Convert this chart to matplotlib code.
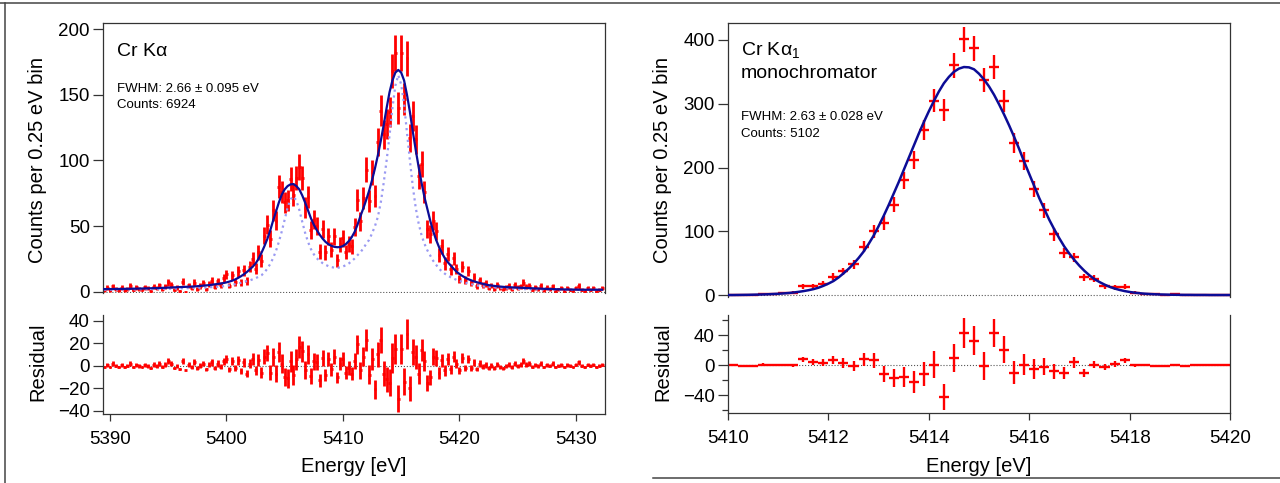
import numpy as np
import matplotlib
matplotlib.use("Agg")
import matplotlib.pyplot as plt
from matplotlib.lines import Line2D

plt.rcParams['font.family'] = ['Liberation Sans', 'DejaVu Sans']
plt.rcParams['mathtext.default'] = 'regular'

# ---- Cr K-alpha (left), 0.25 eV bins starting at 5389.5 eV
ka_start, ka_step = 5389.5, 0.25

ka_fit = [
    2.0, 2.0, 2.0, 2.0, 2.1, 2.1, 2.1, 2.2, 2.2, 2.2,
    2.3, 2.3, 2.4, 2.4, 2.5, 2.5, 2.6, 2.7, 2.7, 2.8,
    2.9, 3.0, 3.1, 3.2, 3.3, 3.4, 3.5, 3.6, 3.7, 3.8,
    3.9, 4.0, 4.2, 4.4, 4.6, 4.8, 5.0, 5.3, 5.6, 5.9,
    6.2, 6.6, 7.1, 7.7, 8.4, 9.3, 10.5, 11.8, 13.3, 15.0,
    17.0, 19.0, 21.5, 25.0, 29.5, 34.5, 40.0, 46.5, 54.0, 61.0,
    68.0, 74.0, 78.0, 80.5, 81.8, 82.0, 80.5, 78.0, 73.5, 68.0,
    62.0, 56.0, 51.0, 47.0, 43.5, 40.5, 38.0, 36.2, 35.0, 34.2,
    33.9, 34.0, 34.8, 36.3, 38.5, 41.5, 45.5, 51.0, 57.5, 63.5,
    70.0, 77.0, 85.0, 94.0, 104.0, 115.0, 127.0, 140.0, 152.0, 161.0,
    167.0, 169.0, 167.0, 161.0, 150.0, 137.0, 122.0, 108.0, 95.0, 83.0,
    72.0, 63.0, 54.0, 46.0, 39.5, 34.0, 29.5, 25.5, 22.5, 20.0,
    17.5, 15.3, 13.5, 12.0, 10.7, 9.6, 8.7, 7.9, 7.2, 6.6,
    6.0, 5.5, 5.0, 4.7, 4.4, 4.1, 3.9, 3.7, 3.5, 3.4,
    3.3, 3.2, 3.1, 3.0, 2.9, 2.8, 2.7, 2.6, 2.5, 2.4,
    2.3, 2.2, 2.1, 2.0, 2.0, 1.9, 1.8, 1.8, 1.7, 1.7,
    1.6, 1.6, 1.6, 1.5, 1.5, 1.5, 1.5, 1.5, 1.5, 1.5,
    1.5, 1.5,
]

# natural line shape (dotted)
ka_lines = [
    1.5, 1.5, 1.5, 1.5, 1.6, 1.6, 1.6, 1.6, 1.7, 1.7,
    1.7, 1.8, 1.8, 1.8, 1.9, 1.9, 2.0, 2.0, 2.1, 2.1,
    2.2, 2.2, 2.3, 2.3, 2.4, 2.4, 2.5, 2.6, 2.6, 2.7,
    2.8, 2.8, 2.9, 3.0, 3.1, 3.2, 3.3, 3.5, 3.6, 3.8,
    4.0, 4.2, 4.5, 4.8, 5.2, 5.7, 6.3, 6.8, 7.4, 8.0,
    8.6, 9.4, 10.3, 11.3, 12.5, 14.5, 17.5, 21.0, 25.5, 31.0,
    38.0, 46.0, 55.0, 64.0, 70.5, 72.5, 69.5, 62.5, 53.5, 45.0,
    38.0, 32.5, 28.5, 25.5, 23.5, 21.8, 20.5, 19.5, 18.8, 18.3,
    18.2, 18.5, 19.2, 20.2, 21.5, 23.2, 25.3, 27.8, 30.0, 33.0,
    36.5, 39.5, 44.5, 50.0, 57.0, 68.0, 83.0, 100.0, 119.0, 140.0,
    157.0, 165.0, 158.0, 143.0, 121.0, 100.0, 80.0, 64.0, 52.0, 43.0,
    36.5, 31.5, 27.5, 23.5, 20.5, 17.5, 15.5, 13.7, 12.2, 11.0,
    10.0, 9.0, 8.2, 7.5, 6.9, 6.3, 5.8, 5.2, 4.8, 4.4,
    4.1, 3.8, 3.6, 3.4, 3.2, 3.0, 2.8, 2.7, 2.5, 2.4,
    2.3, 2.2, 2.1, 2.0, 2.0, 1.9, 1.9, 1.8, 1.8, 1.7,
    1.7, 1.7, 1.6, 1.6, 1.6, 1.6, 1.5, 1.5, 1.5, 1.5,
    1.5, 1.5, 1.4, 1.4, 1.4, 1.4, 1.4, 1.4, 1.4, 1.4,
    1.4, 1.4,
]

ka_resid = [
    -1, 1, -1, 2, 0, -1, 1, -1, 0, 2, -1, 1, 0, -1, 1, 0, -2, 1, 0, 2, -1, 1,
    4, 2, -2, 0, -3, 4, -4, 1, -1, 3, -2, 0, 2, -3, 1, 3, -2, 2, -1, 4,
    6, -3, 4, -2, 5, -5, 3, -7, 2, 6, -4, 5, -6, 8,
    11, -6, 8, -7, 12, 2, -10, -11, 4, -8, 6, 17, 13, -4, 10, -9, 4, 3, -13, 7,
    -8, 6, -3, 8, -10, 2, 6, -6, -2, -7, 4, 19,
    -4, 8, 23, -8, 6, -21, 10, 23, -7, -12, -15, 7, 15, -29, 15, -14, 28, -20,
    12, 8, -7, 14, 4, -15, -10, 8, 7, -6, 5,
    -4, 6, -3, 8, 2, -4, 7, -2, 6, -2, 3, -3,
    2, -1, 1, -2, 0, -2, 1, -1, -2, 0, 1, -1, 2, 0, 1, 4, 1, 2, -1, 1,
    0, 2, -1, 1, 0, 2, -1, 0, 1, -1, 1, 0, -1, 1, 3, 0, -1, 1, 0, 1,
    -1, 0, 1,
]

# ---- Cr K-alpha1 with monochromator (right), 0.2 eV bins from 5410.1 eV
mono_start, mono_step = 5410.1, 0.2
mono_counts = [
    0, 0, 0, 2, 2, 3, 4, 14, 14, 18,
    29, 37, 48, 76, 100, 113, 142, 180, 212, 259,
    305, 290, 360, 401, 387, 337, 357, 304, 238, 210,
    166, 133, 95, 66, 59, 28, 26, 14, 12, 13,
    4, 2, 1, 0, 1, 0, 0, 0, 0, 0,
]
# fit curve sampled every 0.1 eV from 5410.0 eV
mono_fit = [
    0.1, 0.1, 0.2, 0.3, 0.4, 0.6, 0.8, 1.0, 1.3, 1.7,
    2.1, 2.6, 3.2, 4.0, 5.0, 6.2, 7.6, 9.3, 11.5, 14.5,
    18.0, 22.0, 27.5, 34.0, 41.0, 49.0, 58.0, 68.0, 80.0, 93.0,
    108.0, 124.0, 141.0, 159.0, 177.0, 196.0, 215.0, 234.0, 253.0, 271.0,
    288.0, 304.0, 319.0, 332.0, 342.0, 350.0, 355.0, 357.5, 357.0, 354.0,
    347.0, 338.0, 327.0, 314.0, 299.0, 283.0, 266.0, 248.0, 229.0, 209.0,
    190.0, 171.0, 152.0, 135.0, 118.0, 103.0, 89.0, 76.0, 65.0, 55.0,
    46.0, 38.0, 31.0, 25.0, 20.5, 16.5, 13.0, 10.3, 8.1, 6.3,
    4.9, 3.8, 2.9, 2.2, 1.7, 1.3, 1.0, 0.8, 0.6, 0.5,
    0.4, 0.3, 0.3, 0.2, 0.2, 0.2, 0.1, 0.1, 0.1, 0.1,
    0.1,
]

ka_fit = np.array(ka_fit)
ka_lines = np.array(ka_lines)
ka_resid = np.array(ka_resid, dtype=float)
ka_x = ka_start + ka_step * np.arange(len(ka_fit))
ka_counts = ka_fit + ka_resid
ka_err = np.sqrt(np.clip(ka_counts, 0, None))

mono_counts = np.array(mono_counts, dtype=float)
mono_fit = np.array(mono_fit)
mono_x = mono_start + mono_step * np.arange(len(mono_counts))
mono_fx = 5410.0 + 0.1 * np.arange(len(mono_fit))
mono_resid = mono_counts - mono_fit[1::2]
mono_err = np.sqrt(mono_counts)

RED = '#ff0000'
NAVY = '#0c0c96'
LIGHT = '#9a9af2'
SPINE = '#333333'

W, H = 1280, 483
fig = plt.figure(figsize=(12.8, 4.83), dpi=100)


def box(x0, y0, x1, y1):
    # pixel box (top-left origin) -> figure fraction rect
    return [x0 / W, 1 - y1 / H, (x1 - x0) / W, (y1 - y0) / H]


def style(ax, top):
    for s in ax.spines.values():
        s.set_color(SPINE)
        s.set_linewidth(0.9)
    if top:
        ax.spines['bottom'].set_visible(False)
        ax.tick_params(axis='x', bottom=False, labelbottom=False)
    else:
        ax.spines['top'].set_visible(False)
        ax.tick_params(axis='x', direction='out', length=5, width=0.9,
                       pad=7, labelsize=13.5, color=SPINE)
    ax.tick_params(axis='y', direction='out', length=7, width=0.9,
                   pad=2.5, labelsize=13.5, right=False, color=SPINE)
    ax.tick_params(which='minor', length=4, width=0.9, color=SPINE)
    ax.axhline(0, color='#555555', ls=':', lw=0.8, zorder=0)


# left panel
axL = fig.add_axes(box(103, 22.7, 605, 293))
axLr = fig.add_axes(box(103, 315, 605, 414.3), sharex=axL)
style(axL, True)
style(axLr, False)

axL.errorbar(ka_x, ka_counts, yerr=ka_err, xerr=ka_step / 2, fmt='none',
             ecolor=RED, elinewidth=2.0, zorder=2)
axL.plot(ka_x, ka_lines, color=LIGHT, ls=':', lw=1.6, zorder=3)
axL.plot(ka_x, ka_fit, color=NAVY, lw=1.6, zorder=4)
axL.set_xlim(5389.4, 5432.5)
axL.set_ylim(-1, 205)
axL.set_yticks([0, 50, 100, 150, 200])

axLr.errorbar(ka_x, ka_resid, yerr=ka_err, xerr=ka_step / 2, fmt='none',
              ecolor=RED, elinewidth=2.0, zorder=2)
axLr.set_ylim(-43, 45)
axLr.set_yticks([-40, -20, 0, 20, 40])
axLr.set_xticks([5390, 5400, 5410, 5420, 5430])

# right panel
axR = fig.add_axes(box(728, 22.7, 1230, 297))
axRr = fig.add_axes(box(728, 315, 1230, 413.3), sharex=axR)
style(axR, True)
style(axRr, False)

axR.errorbar(mono_x, mono_counts, yerr=mono_err, xerr=mono_step / 2,
             fmt='none', ecolor=RED, elinewidth=1.7, zorder=2)
axR.plot(mono_fx, mono_fit, color=NAVY, lw=1.8, zorder=4)
axR.set_xlim(5410, 5420)
axR.set_ylim(-3, 427)
axR.set_yticks([0, 100, 200, 300, 400])

axRr.errorbar(mono_x, mono_resid, yerr=mono_err, xerr=mono_step / 2,
              fmt='none', ecolor=RED, elinewidth=1.7, zorder=2)
axRr.set_ylim(-64, 67)
axRr.set_yticks([-40, 0, 40])
axRr.set_yticks([-60, -20, 20, 60], minor=True)
axRr.set_xticks([5410, 5412, 5414, 5416, 5418, 5420])

for ax in (axLr, axRr):
    ax.xaxis.set_major_formatter(matplotlib.ticker.FormatStrFormatter('%d'))


def ftext(x, y, s, **kw):
    fig.text(x / W, 1 - y / H, s, **kw)


# axis labels
for x0 in (38, 663):
    ftext(x0, 160, 'Counts per 0.25 eV bin', rotation=90, ha='center',
          va='center', fontsize=14.5)
    ftext(x0, 362, 'Residual', rotation=90, ha='center', va='center',
          fontsize=14.5)
ftext(354, 467, 'Energy [eV]', ha='center', va='center', fontsize=14.5)
ftext(979, 467, 'Energy [eV]', ha='center', va='center', fontsize=14.5)

# annotations
ftext(117, 52, 'Cr Kα', va='center', fontsize=14)
ftext(117, 89, 'FWHM: 2.66 ± 0.095 eV', va='center', fontsize=9.5)
ftext(117, 105, 'Counts: 6924', va='center', fontsize=9.5)

ftext(741, 50, 'Cr Kα$_1$', va='center', fontsize=14)
ftext(741, 73, 'monochromator', va='center', fontsize=14)
ftext(741, 117, 'FWHM: 2.63 ± 0.028 eV', va='center', fontsize=9.5)
ftext(741, 134, 'Counts: 5102', va='center', fontsize=9.5)

# page frame lines
frame = dict(transform=fig.transFigure, color='#444444', lw=1.1)
fig.add_artist(Line2D([0, 1], [1 - 2.7 / H] * 2, **frame))
fig.add_artist(Line2D([5 / W] * 2, [0, 1 - 2.7 / H], **frame))
fig.add_artist(Line2D([653 / W, 1], [1 - 477.7 / H] * 2, **frame))

fig.savefig('out.png', dpi=100)
